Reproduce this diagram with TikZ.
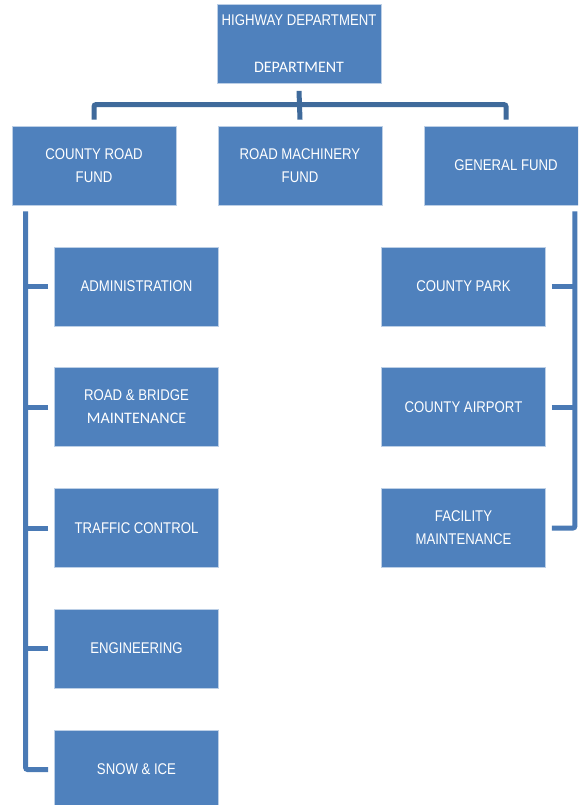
\documentclass[tikz,border=0pt]{standalone}
\usepackage{fontspec}
\setmainfont[FakeStretch=0.85]{Liberation Sans}
\newfontfamily\calfont{Carlito}
\definecolor{boxblue}{HTML}{4F81BD}
\definecolor{boxedge}{HTML}{BCCFE6}
\definecolor{linkblue}{HTML}{4A7AB5}
\definecolor{barblue}{HTML}{3F6A9B}
\begin{document}
\begin{tikzpicture}[x=1pt,y=-1pt,
  unitbox/.style={rectangle,fill=boxblue,draw=boxedge,line width=0.8pt,
    minimum width=164pt,minimum height=79pt,inner sep=0pt,align=center,
    text=white,font=\fontsize{15.5}{23}\selectfont},
  conn/.style={draw=linkblue,line width=5pt},
  topconn/.style={draw=barblue,line width=5pt}]
\clip (0,0) rectangle (578,805);
\fill[white] (0,0) rectangle (578,805);
% top
\node[unitbox] (top) at (299,44) {HIGHWAY DEPARTMENT\\[24pt]{\calfont\fontsize{16}{23}\selectfont DEPARTMENT}};
% second row
\node[unitbox] (crf) at (94,165.5) {COUNTY ROAD\\FUND};
\node[unitbox] (rmf) at (300,165.5) {ROAD MACHINERY\\FUND};
\node[unitbox] (gf) at (506,165.5) {GENERAL FUND};
% left column
\node[unitbox] (adm) at (136.5,286.5) {ADMINISTRATION};
\node[unitbox] (rbm) at (136.5,407) {ROAD \& BRIDGE\\{\calfont\fontsize{16}{23}\selectfont MAINTENANCE}};
\node[unitbox] (trc) at (136.5,528) {TRAFFIC CONTROL};
\node[unitbox] (eng) at (136.5,648.5) {ENGINEERING};
\node[unitbox] (snw) at (136.5,769.5) {SNOW \& ICE};
% right column
\node[unitbox] (cpk) at (463.5,286.5) {COUNTY PARK};
\node[unitbox] (cap) at (463.5,407) {COUNTY AIRPORT};
\node[unitbox] (fac) at (463.5,528) {FACILITY\\MAINTENANCE};
% top connectors
\draw[topconn] ([yshift=-7pt]top.south) -- ([yshift=6pt]rmf.north);
\draw[topconn,rounded corners=2pt] ([yshift=6pt]crf.north) -- ++(0,-15) -| ([yshift=6pt]gf.north);
% left trunk
\coordinate (lt) at ([xshift=14pt]crf.south west);
\draw[conn,rounded corners=2pt] ([yshift=-6pt]lt) |- ([xshift=-6pt]snw.west);
\foreach \b in {adm,rbm,trc,eng}
  \draw[conn] ([xshift=-6pt]\b.west) -- (\b.west -| lt);
% right trunk
\coordinate (rt) at ([xshift=-13.5pt]gf.south east);
\draw[conn,rounded corners=2pt] ([yshift=-6pt]rt) |- ([xshift=6pt]fac.east);
\foreach \b in {cpk,cap}
  \draw[conn] ([xshift=6pt]\b.east) -- (\b.east -| rt);
\end{tikzpicture}
\end{document}
